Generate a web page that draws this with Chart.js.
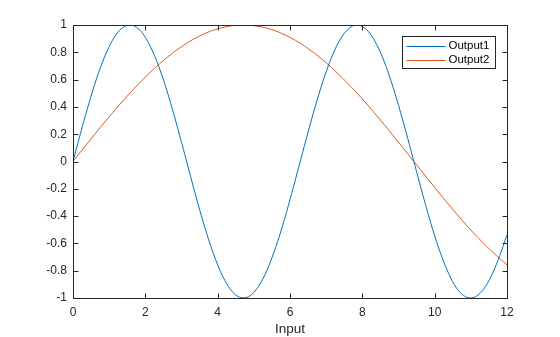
<!DOCTYPE html>
<html>
<head>
<meta charset="utf-8">
<script src="https://cdn.jsdelivr.net/npm/chart.js@4"></script>
<style>
    html, body { margin: 0; padding: 0; background: #fff; }
    #wrap { width: 560px; height: 337px; }
</style>
</head>
<body>
<div id="wrap"><canvas id="chart" width="560" height="337"></canvas></div>
<script>
// Input values (x axis)
const inputs = [
    0, 0.2, 0.4, 0.6, 0.8, 1, 1.2, 1.4, 1.6, 1.8,
    2, 2.2, 2.4, 2.6, 2.8, 3, 3.2, 3.4, 3.6, 3.8,
    4, 4.2, 4.4, 4.6, 4.8, 5, 5.2, 5.4, 5.6, 5.8,
    6, 6.2, 6.4, 6.6, 6.8, 7, 7.2, 7.4, 7.6, 7.8,
    8, 8.2, 8.4, 8.6, 8.8, 9, 9.2, 9.4, 9.6, 9.8,
    10, 10.2, 10.4, 10.6, 10.8, 11, 11.2, 11.4, 11.6, 11.8,
    12
];

// Output1 (blue)
const output1 = [
    0, 0.199, 0.389, 0.565, 0.717, 0.841, 0.932, 0.985, 1.000, 0.974,
    0.909, 0.808, 0.675, 0.516, 0.335, 0.141, -0.058, -0.256, -0.443, -0.612,
    -0.757, -0.872, -0.952, -0.994, -0.996, -0.959, -0.883, -0.773, -0.631, -0.465,
    -0.279, -0.083, 0.117, 0.312, 0.494, 0.657, 0.794, 0.899, 0.968, 0.999,
    0.989, 0.941, 0.855, 0.735, 0.585, 0.412, 0.223, 0.025, -0.174, -0.366,
    -0.544, -0.699, -0.828, -0.925, -0.982, -1.000, -0.978, -0.917, -0.819, -0.689,
    -0.537
];

// Output2 (orange)
const output2 = [
    0, 0.067, 0.133, 0.199, 0.264, 0.327, 0.389, 0.450, 0.508, 0.565,
    0.618, 0.669, 0.717, 0.762, 0.804, 0.841, 0.876, 0.906, 0.932, 0.954,
    0.972, 0.985, 0.995, 0.999, 1.000, 0.995, 0.987, 0.974, 0.957, 0.935,
    0.909, 0.880, 0.846, 0.808, 0.767, 0.723, 0.675, 0.625, 0.571, 0.516,
    0.458, 0.398, 0.335, 0.272, 0.207, 0.141, 0.075, 0.008, -0.058, -0.125,
    -0.190, -0.256, -0.319, -0.382, -0.443, -0.502, -0.558, -0.612, -0.663, -0.711,
    -0.757
];

const seriesLabels = ['Output1', 'Output2'];
const seriesColors = ['#0072BD', '#D95319'];
const xTicks = [0, 2, 4, 6, 8, 10, 12];
const yTicks = [-1, -0.8, -0.6, -0.4, -0.2, 0, 0.2, 0.4, 0.6, 0.8, 1];
const xTitle = 'Input';

const FONT = '"Liberation Sans", Arial, Helvetica, sans-serif';

function toPoints(ys) {
    return inputs.map((x, i) => ({ x: x, y: ys[i] }));
}

// Box, inward ticks and legend like the MATLAB figure
const axesBox = {
    id: 'axesBox',
    afterDraw(chart) {
        const { ctx, chartArea: a, scales } = chart;
        const L = Math.round(a.left) + 0.5, R = Math.round(a.right) + 0.5;
        const T = Math.round(a.top) + 0.5, B = Math.round(a.bottom) + 0.5;
        ctx.save();
        ctx.strokeStyle = '#262626';
        ctx.lineWidth = 1;
        ctx.strokeRect(L, T, R - L, B - T);
        ctx.beginPath();
        xTicks.forEach(v => {
            const px = Math.round(scales.x.getPixelForValue(v)) + 0.5;
            ctx.moveTo(px, B); ctx.lineTo(px, B - 5);
            ctx.moveTo(px, T); ctx.lineTo(px, T + 5);
        });
        yTicks.forEach(v => {
            const py = Math.round(scales.y.getPixelForValue(v)) + 0.5;
            ctx.moveTo(L, py); ctx.lineTo(L + 5, py);
            ctx.moveTo(R, py); ctx.lineTo(R - 5, py);
        });
        ctx.stroke();

        // legend
        const lx = 402.5, ly = 36.5, lw = 93, lh = 32;
        ctx.fillStyle = '#fff';
        ctx.fillRect(lx, ly, lw, lh);
        ctx.strokeStyle = '#262626';
        ctx.strokeRect(lx, ly, lw, lh);
        ctx.font = '11.5px ' + FONT;
        ctx.textBaseline = 'middle';
        ctx.textAlign = 'left';
        seriesLabels.forEach((lab, i) => {
            const y = ly + 9 + i * 14;
            ctx.strokeStyle = seriesColors[i];
            ctx.beginPath();
            ctx.moveTo(lx + 4, Math.round(y) + 0.5);
            ctx.lineTo(lx + 43, Math.round(y) + 0.5);
            ctx.stroke();
            ctx.fillStyle = '#000';
            ctx.fillText(lab, lx + 46, y + 0.5);
        });
        ctx.restore();
    }
};

const datasets = seriesLabels.map((lab, i) => ({
    label: lab,
    data: toPoints(i === 0 ? output1 : output2),
    borderColor: seriesColors[i],
    borderWidth: 1,
    pointRadius: 0,
    tension: 0.4,
    fill: false
}));

new Chart(document.getElementById('chart'), {
    type: 'line',
    data: { datasets: datasets },
    options: {
        responsive: false,
        animation: false,
        layout: { padding: { top: 25, right: 53, left: 0, bottom: 0 } },
        plugins: {
            legend: { display: false },
            tooltip: { enabled: false }
        },
        scales: {
            x: {
                type: 'linear',
                min: 0,
                max: 12,
                afterBuildTicks: (s) => { s.ticks = xTicks.map(v => ({ value: v })); },
                afterFit: (s) => { s.height = 39; },
                grid: { display: false, drawTicks: false },
                border: { display: false },
                ticks: {
                    color: '#262626',
                    font: { family: FONT, size: 12 },
                    padding: 7,
                    maxRotation: 0
                },
                title: {
                    display: true,
                    text: xTitle,
                    color: '#262626',
                    font: { family: FONT, size: 13.5 },
                    padding: { top: 0, bottom: 0 }
                }
            },
            y: {
                min: -1,
                max: 1,
                afterBuildTicks: (s) => { s.ticks = yTicks.map(v => ({ value: v })); },
                afterFit: (s) => { s.width = 73; },
                grid: { display: false, drawTicks: false },
                border: { display: false },
                ticks: {
                    color: '#262626',
                    font: { family: FONT, size: 12 },
                    padding: 6,
                    callback: (v) => String(Math.round(v * 10) / 10)
                }
            }
        }
    },
    plugins: [axesBox]
});
</script>
</body>
</html>
